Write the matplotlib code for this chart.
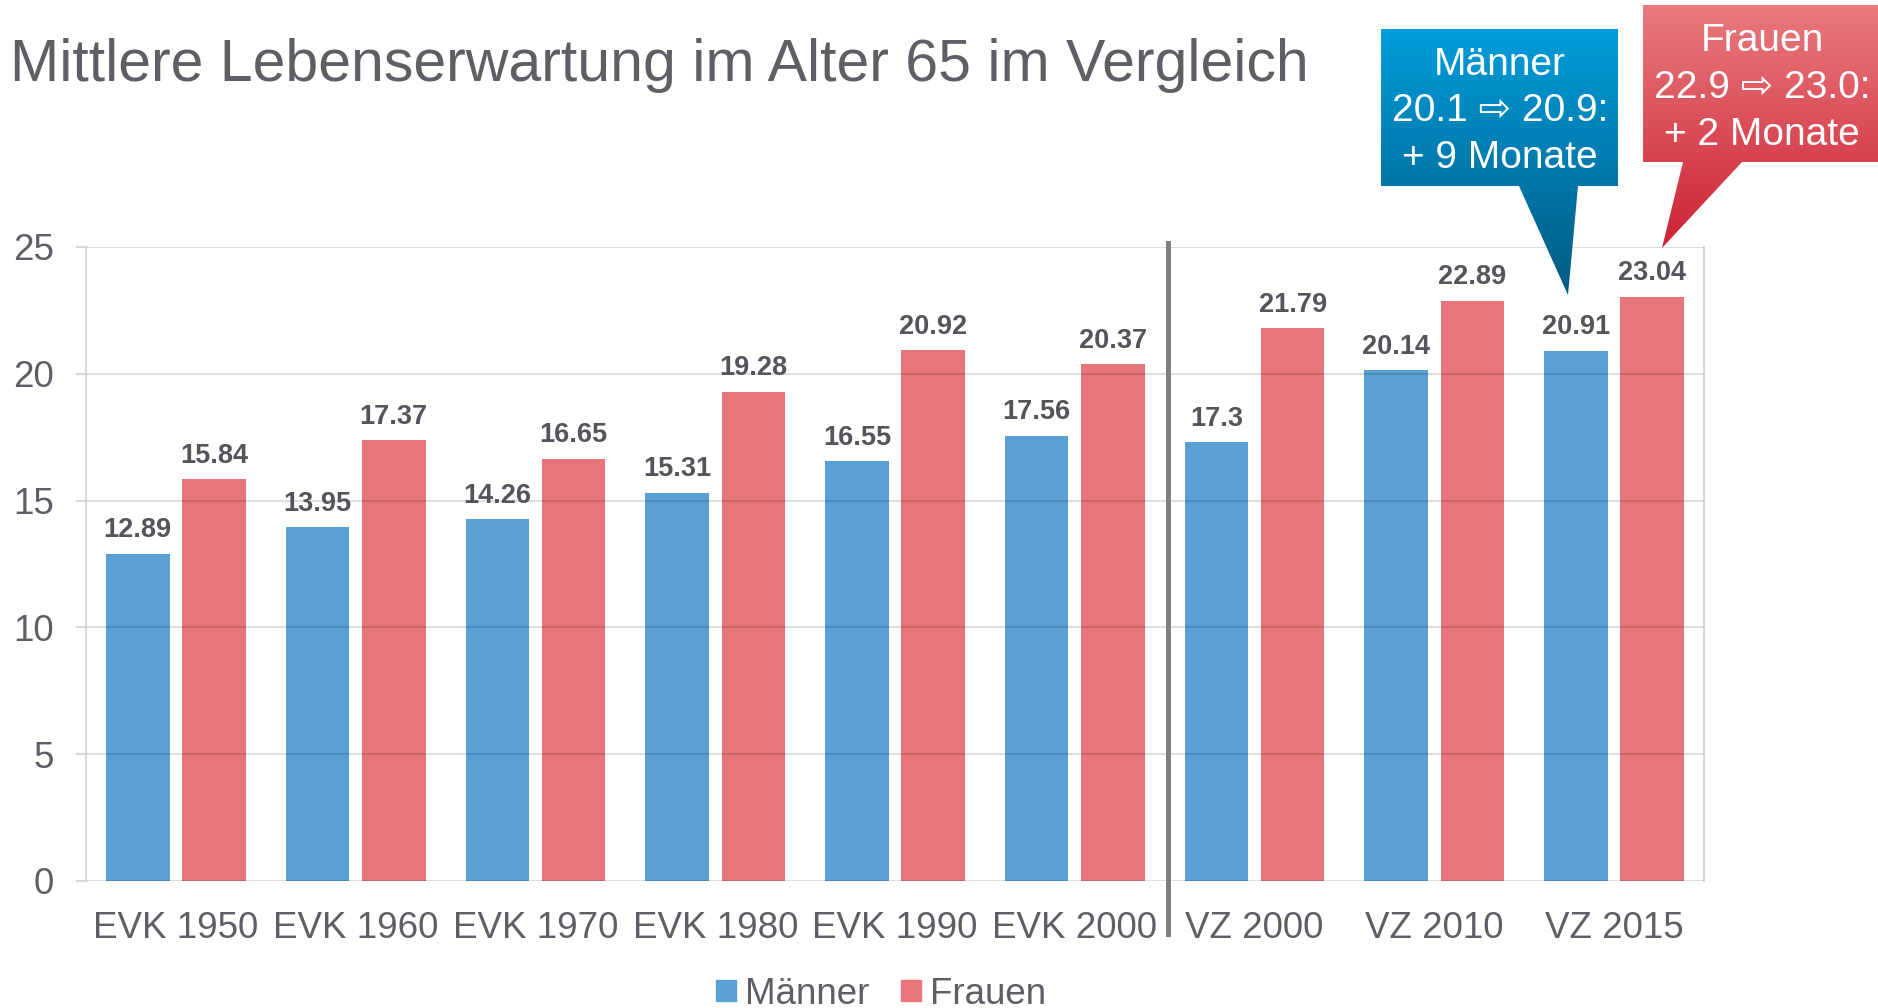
import matplotlib
matplotlib.use("Agg")
import matplotlib.pyplot as plt
import numpy as np
from matplotlib.patches import Polygon, Patch
from matplotlib.colors import to_rgb

categories = ["EVK 1950", "EVK 1960", "EVK 1970", "EVK 1980", "EVK 1990",
              "EVK 2000", "VZ 2000", "VZ 2010", "VZ 2015"]
maenner = [12.89, 13.95, 14.26, 15.31, 16.55, 17.56, 17.3, 20.14, 20.91]
frauen = [15.84, 17.37, 16.65, 19.28, 20.92, 20.37, 21.79, 22.89, 23.04]
yticks = [0, 5, 10, 15, 20, 25]

title = "Mittlere Lebenserwartung im Alter 65 im Vergleich"
callout_m = ["Männer", "20.1 \u21e8 20.9:", "+ 9 Monate"]
callout_f = ["Frauen", "22.9 \u21e8 23.0:", "+ 2 Monate"]

BLUE = "#5BA0D5"
RED = "#E8757A"
TXT = "#5F5E66"
LBL = "#55545C"
FAM = ["Liberation Sans", "DejaVu Sans"]
plt.rcParams["font.family"] = FAM

W, H = 1878, 1008
fig = plt.figure(figsize=(W / 100, H / 100), dpi=100)
ax = fig.add_axes([86 / W, 1 - 881 / H, (1704 - 86) / W, (881 - 247) / H])

x = np.arange(len(categories))
off, bw = 0.212, 0.353
bm = ax.bar(x - off, maenner, bw, color=BLUE, zorder=2)
bf = ax.bar(x + off, frauen, bw, color=RED, zorder=2)

for bars, vals in ((bm, maenner), (bf, frauen)):
    for b, v in zip(bars, vals):
        ax.annotate(f"{v:g}", (b.get_x() + b.get_width() / 2, v),
                    xytext=(0, 12), textcoords="offset points",
                    ha="center", va="baseline", fontsize=19.5,
                    fontweight="bold", color=LBL)

ax.set_xlim(-0.5, len(categories) - 0.5)
ax.set_ylim(0, 25)
ax.set_yticks(yticks)
ax.set_xticks(x)
ax.set_xticklabels(categories)
ax.tick_params(axis="x", length=0, pad=21.5, labelsize=26.5, labelcolor=TXT)
ax.tick_params(axis="y", length=7.2, width=1.5, color="#D9D9D9", pad=16,
               labelsize=26.5, labelcolor=TXT)
ax.grid(axis="y", color="#000000", alpha=0.13, linewidth=1.5, zorder=3)
ax.set_axisbelow(False)
for s in ax.spines.values():
    s.set_color("#D9D9D9")
    s.set_linewidth(1.5)
ax.spines["top"].set_visible(False)
ax.spines["bottom"].set_visible(False)

ax.axvline(5.52, ymin=-0.084, ymax=1.006, color="#7F7F7F", linewidth=3.6,
           clip_on=False, zorder=4)

fig.text(10 / W, 1 - 81 / H, title, fontsize=42.5, color=TXT,
         ha="left", va="baseline")

leg = fig.legend(handles=[Patch(color=BLUE, label="Männer"),
                          Patch(color=RED, label="Frauen")],
                 loc="center", bbox_to_anchor=(881 / W, 1 - 994 / H), ncol=2,
                 frameon=False, fontsize=26.5, handlelength=0.54,
                 handleheight=0.54, handletextpad=0.25, columnspacing=0.87,
                 borderaxespad=0, borderpad=0)
for t in leg.get_texts():
    t.set_color(TXT)

# callouts overlay
ov = fig.add_axes([0, 0, 1, 1], zorder=10)
ov.set_xlim(0, W)
ov.set_ylim(H, 0)
ov.set_aspect("auto")
ov.axis("off")


def callout(verts, c_top, c_bot):
    poly = Polygon(verts, closed=True, facecolor="none", edgecolor="none")
    ov.add_patch(poly)
    xs = [v[0] for v in verts]
    ys = [v[1] for v in verts]
    t = np.linspace(0, 1, 256)[:, None]
    ct, cb = np.array(to_rgb(c_top)), np.array(to_rgb(c_bot))
    grad = (ct[None, :] * (1 - t) + cb[None, :] * t)[:, None, :]
    im = ov.imshow(grad, extent=(min(xs), max(xs), max(ys), min(ys)),
                   origin="upper", aspect="auto", interpolation="bilinear")
    im.set_clip_path(poly)


callout([(1381, 29), (1618, 29), (1618, 186), (1578, 186), (1568, 295),
         (1519, 186), (1381, 186)], "#009DDB", "#005A82")
callout([(1643, 5), (1880, 5), (1880, 162), (1742, 162), (1662, 248),
         (1683, 162), (1643, 162)], "#E97A7F", "#CC2333")
ov.set_xlim(0, W)
ov.set_ylim(H, 0)

for txt, yy in zip(callout_m, (65, 111, 158)):
    ov.text(1500, yy, txt, ha="center", va="center", fontsize=28,
            color="white", family=FAM)
for txt, yy in zip(callout_f, (41, 88, 135)):
    ov.text(1762, yy, txt, ha="center", va="center", fontsize=28,
            color="white", family=FAM)

fig.savefig("out.png", dpi=100)
